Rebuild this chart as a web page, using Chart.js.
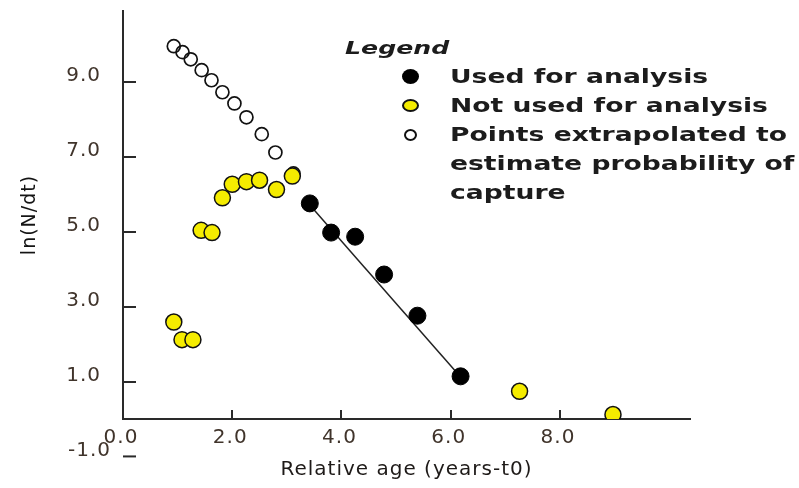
<!DOCTYPE html>
<html>
<head>
<meta charset="utf-8">
<script src="https://cdn.jsdelivr.net/npm/chart.js@4.4.1/dist/chart.umd.min.js"></script>
<style>
    html, body { margin: 0; padding: 0; background: #fff; }
    .chart-container { position: relative; width: 799px; height: 488px; }
    #ageChart { display: block; }
    .age-legend {
        position: absolute;
        left: 345px;
        top: 33px;
        color: #1c1c1c;
        font-family: 'DejaVu Sans', sans-serif;
    }
    .legend-title {
        height: 29px;
        line-height: 29px;
        font-style: italic;
        font-weight: bold;
        font-size: 18px;
        transform: scaleX(1.4);
        transform-origin: left center;
        white-space: nowrap;
    }
    .legend-item { position: relative; padding-left: 105px; }
    .legend-line {
        height: 29px;
        line-height: 29px;
        font-weight: bold;
        font-size: 19px;
        transform: scaleX(1.4);
        transform-origin: left center;
        white-space: nowrap;
    }
    .legend-marker { position: absolute; box-sizing: border-box; border-radius: 50%; }
</style>
</head>
<body>
<div class="chart-container">
    <canvas id="ageChart" width="799" height="488"></canvas>
    <div class="age-legend" id="ageChart-legend"></div>
</div>
<script>
// Relative age (years-t0) vs ln(N/dt)
const usedX = [3.42, 3.81, 4.25, 4.78, 5.39, 6.18];
const usedY = [5.76, 4.98, 4.87, 3.86, 2.76, 1.14];

const notUsedX = [0.93, 1.08, 1.28, 1.43, 1.63, 1.82, 2.00, 2.26, 2.50, 2.81, 3.10, 7.26, 8.97];
const notUsedY = [2.59, 2.12, 2.12, 5.04, 4.98, 5.91, 6.27, 6.34, 6.38, 6.13, 6.49, 0.74, 0.12];

const extrapX = [0.93, 1.09, 1.24, 1.44, 1.62, 1.82, 2.04, 2.26, 2.54, 2.79, 3.12];
const extrapY = [9.96, 9.80, 9.61, 9.32, 9.05, 8.73, 8.43, 8.06, 7.61, 7.12, 6.56];

// regression line through the points used for analysis
const fitX = [3.42, 6.18];
const fitY = [5.72, 1.12];

const xTicks = [0, 2, 4, 6, 8];
const yTicks = [1, 3, 5, 7, 9];
const yLowTick = -1;

const legendLabels = [
    ['Used for analysis'],
    ['Not used for analysis'],
    ['Points extrapolated to', 'estimate probability of', 'capture']
];

const toPoints = (xs, ys) => xs.map((x, i) => ({ x: x, y: ys[i] }));
const fmt = v => Number(v).toFixed(1);
const tickColor = '#40342b';
const axisColor = '#2a2a2a';
const tickFont = { family: 'DejaVu Sans', size: 20 };

// wider glyph spacing for every canvas label
const spacingPlugin = {
    id: 'spacing',
    beforeLayout(chart) { chart.ctx.letterSpacing = '1px'; },
    beforeDraw(chart) { chart.ctx.letterSpacing = '1px'; }
};

// the -1.0 tick sits below the x axis, off the y axis line
const lowTickPlugin = {
    id: 'lowTick',
    afterDraw(chart) {
        const ctx = chart.ctx;
        const y = chart.scales.y.getPixelForValue(yLowTick);
        const x = chart.scales.y.right;
        ctx.save();
        ctx.strokeStyle = axisColor;
        ctx.lineWidth = 2;
        ctx.beginPath();
        ctx.moveTo(x, y);
        ctx.lineTo(x + 13, y);
        ctx.stroke();
        ctx.font = tickFont.size + 'px "DejaVu Sans"';
        ctx.fillStyle = tickColor;
        ctx.textAlign = 'right';
        ctx.textBaseline = 'middle';
        ctx.fillText(fmt(yLowTick), x - 12, y - 6);
        ctx.restore();
    }
};

const ctx = document.getElementById('ageChart').getContext('2d');
const chart = new Chart(ctx, {
    type: 'scatter',
    data: {
        datasets: [
            {
                label: legendLabels[0].join(' '),
                data: toPoints(usedX, usedY),
                backgroundColor: '#000000',
                borderColor: '#000000',
                borderWidth: 1,
                pointRadius: 8.5,
                order: 1
            },
            {
                label: legendLabels[1].join(' '),
                data: toPoints(notUsedX, notUsedY),
                backgroundColor: '#f5ec00',
                borderColor: '#111111',
                borderWidth: 1.5,
                pointRadius: 8,
                order: 2
            },
            {
                label: legendLabels[2].join(' '),
                data: toPoints(extrapX, extrapY),
                backgroundColor: 'rgba(0,0,0,0)',
                borderColor: '#111111',
                borderWidth: 1.7,
                pointRadius: 6.5,
                order: 3
            },
            {
                type: 'line',
                label: 'fit',
                data: toPoints(fitX, fitY),
                borderColor: '#222222',
                borderWidth: 1.5,
                pointRadius: 0,
                showLine: true,
                fill: false,
                order: 4
            }
        ]
    },
    options: {
        responsive: false,
        animation: false,
        layout: { padding: { left: 0, top: 11, right: 109, bottom: 0 } },
        plugins: {
            legend: { display: false },
            tooltip: { enabled: false }
        },
        scales: {
            x: {
                type: 'linear',
                min: 0,
                max: 10.38,
                afterFit: s => { s.height = 69; },
                afterBuildTicks: s => { s.ticks = xTicks.map(v => ({ value: v })); },
                border: { display: true, color: axisColor, width: 2 },
                grid: {
                    drawOnChartArea: false,
                    drawTicks: true,
                    tickLength: -9,
                    color: axisColor,
                    lineWidth: 2
                },
                ticks: {
                    autoSkip: false,
                    maxRotation: 0,
                    padding: 16,
                    labelOffset: -2,
                    color: tickColor,
                    font: tickFont,
                    callback: v => fmt(v)
                },
                title: {
                    display: true,
                    text: 'Relative age (years-t0)',
                    color: '#1e1a18',
                    font: { family: 'DejaVu Sans', size: 20 },
                    padding: { top: 0, bottom: 6 }
                }
            },
            y: {
                type: 'linear',
                min: 0,
                max: 10.9,
                afterFit: s => {
                    s.width = 123;
                    // keep the label padding from shrinking the plot height
                    s.paddingTop = 0;
                    s.paddingBottom = 0;
                },
                afterBuildTicks: s => { s.ticks = yTicks.map(v => ({ value: v })); },
                border: { display: true, color: axisColor, width: 2 },
                grid: {
                    drawOnChartArea: false,
                    drawTicks: true,
                    tickLength: -13,
                    color: axisColor,
                    lineWidth: 2
                },
                ticks: {
                    autoSkip: false,
                    padding: 35,
                    labelOffset: -6,
                    color: tickColor,
                    font: tickFont,
                    callback: v => fmt(v)
                },
                title: {
                    display: true,
                    text: 'ln(N/dt)',
                    color: '#141414',
                    font: { family: 'DejaVu Sans', size: 19 },
                    padding: { top: 19, bottom: 0 }
                }
            }
        }
    },
    plugins: [spacingPlugin, lowTickPlugin]
});

// html legend built from the first three datasets
const markerStyles = [
    { w: 17, h: 15, border: 0 },
    { w: 17, h: 13, border: 2 },
    { w: 13, h: 12, border: 2 }
];
const legendEl = document.getElementById('ageChart-legend');
let legendHtml = '<div class="legend-title">Legend</div>';
chart.data.datasets.slice(0, 3).forEach((ds, i) => {
    const m = markerStyles[i];
    const left = 65 - m.w / 2;
    const top = 14.5 - m.h / 2;
    const edge = m.border ? `border:${m.border}px solid ${ds.borderColor};` : '';
    legendHtml += `
        <div class="legend-item">
            <div class="legend-marker" style="left:${left}px;top:${top}px;width:${m.w}px;height:${m.h}px;background:${ds.backgroundColor};${edge}"></div>
            ${legendLabels[i].map(line => `<div class="legend-line">${line}</div>`).join('')}
        </div>`;
});
legendEl.innerHTML = legendHtml;
</script>
</body>
</html>
